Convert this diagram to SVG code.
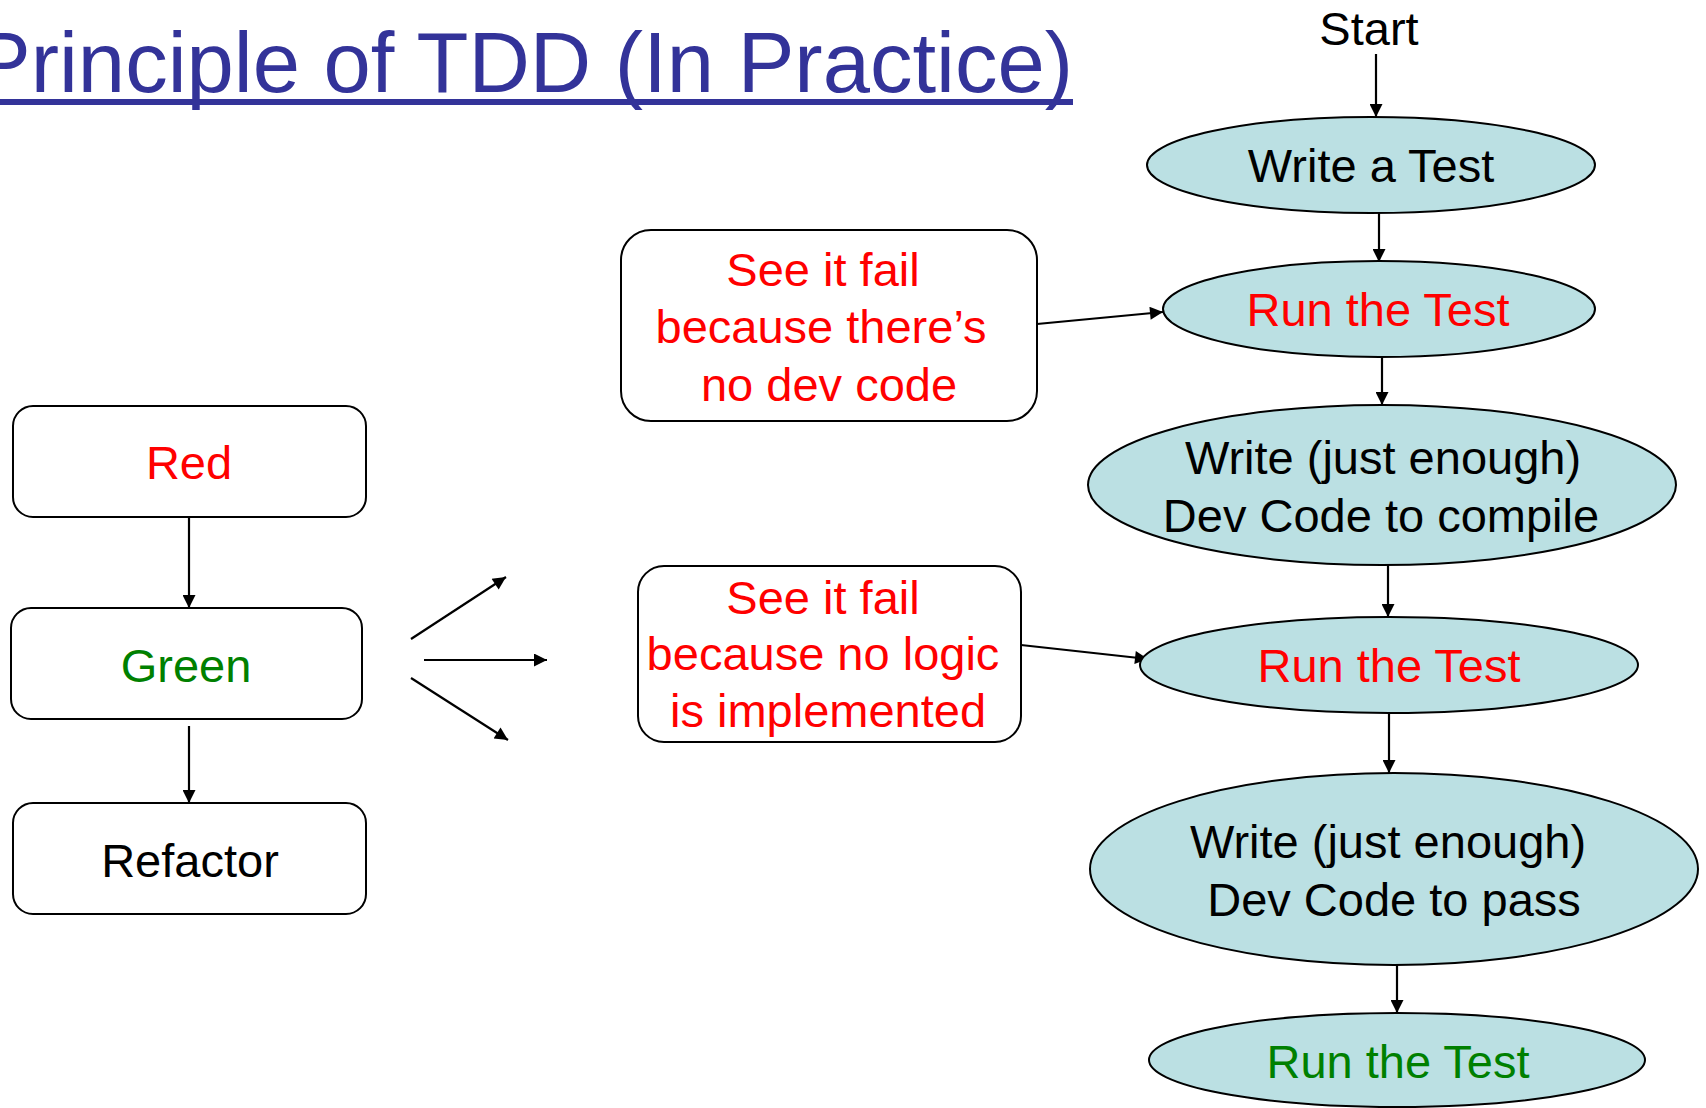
<svg xmlns="http://www.w3.org/2000/svg" width="1706" height="1108" viewBox="0 0 1706 1108">
  <defs>
    <marker id="arrow" viewBox="0 0 10 10" refX="10" refY="5" markerWidth="15" markerHeight="13" markerUnits="userSpaceOnUse" orient="auto">
      <path d="M0,0 L10,5 L0,10 z" fill="#000"/>
    </marker>
    <style>
      text { font-family: "Liberation Sans", Arial, sans-serif; font-size: 47px; text-anchor: middle; }
      .title { font-size: 85px; fill: #333399; text-anchor: end; }
      .black { fill: #000; }
      .red { fill: #FF0000; }
      .green { fill: #008000; }
      .step { fill: #BBE0E3; stroke: #000; stroke-width: 2; }
      .box { fill: #fff; stroke: #000; stroke-width: 2; }
      .conn line { stroke: #000; stroke-width: 2.2; marker-end: url(#arrow); }
    </style>
  </defs>

  <rect width="1706" height="1108" fill="#fff"/>

  <!-- Heading with its underline -->
  <g id="heading">
    <text class="title" x="1073" y="92">Principle of TDD (In Practice)</text>
    <rect x="0" y="99" width="1073" height="6" fill="#333399"/>
  </g>

  <!-- Connectors -->
  <g id="connectors" class="conn">
    <line x1="1376" y1="54" x2="1376" y2="117"/>
    <line x1="1379" y1="213" x2="1379" y2="262"/>
    <line x1="1382" y1="357" x2="1382" y2="405"/>
    <line x1="1388" y1="565" x2="1388" y2="617"/>
    <line x1="1389" y1="713" x2="1389" y2="773"/>
    <line x1="1397" y1="965" x2="1397" y2="1013"/>
    <line x1="1037" y1="324" x2="1163" y2="312"/>
    <line x1="1021" y1="645" x2="1148" y2="659"/>
    <line x1="189" y1="517" x2="189" y2="608"/>
    <line x1="189" y1="726" x2="189" y2="803"/>
    <line x1="411" y1="639" x2="506" y2="577"/>
    <line x1="424" y1="660" x2="547" y2="660"/>
    <line x1="411" y1="678" x2="508" y2="740"/>
  </g>

  <!-- Right-hand flow -->
  <g id="start">
    <text class="black" x="1369" y="45">Start</text>
  </g>
  <g id="write-test">
    <ellipse class="step" cx="1371" cy="165" rx="224" ry="48"/>
    <text class="black" x="1371" y="182">Write a Test</text>
  </g>
  <g id="run-test-1">
    <ellipse class="step" cx="1379" cy="309" rx="216" ry="48"/>
    <text class="red" x="1378" y="326">Run the Test</text>
  </g>
  <g id="write-compile">
    <ellipse class="step" cx="1382" cy="485" rx="294" ry="80"/>
    <text class="black" x="1383" y="474">Write (just enough)</text>
    <text class="black" x="1381" y="532">Dev Code to compile</text>
  </g>
  <g id="run-test-2">
    <ellipse class="step" cx="1389" cy="665" rx="249" ry="48"/>
    <text class="red" x="1389" y="682">Run the Test</text>
  </g>
  <g id="write-pass">
    <ellipse class="step" cx="1394" cy="869" rx="304" ry="96"/>
    <text class="black" x="1388" y="858">Write (just enough)</text>
    <text class="black" x="1394" y="916">Dev Code to pass</text>
  </g>
  <g id="run-test-3">
    <ellipse class="step" cx="1397" cy="1060" rx="248" ry="47"/>
    <text class="green" x="1398" y="1078">Run the Test</text>
  </g>

  <!-- Notes -->
  <g id="note-no-dev-code">
    <rect class="box" x="621" y="230" width="416" height="191" rx="30"/>
    <text class="red" x="823" y="286">See it fail</text>
    <text class="red" x="821" y="343">because there’s</text>
    <text class="red" x="829" y="401">no dev code</text>
  </g>
  <g id="note-no-logic">
    <rect class="box" x="638" y="566" width="383" height="176" rx="26"/>
    <text class="red" x="823" y="614">See it fail</text>
    <text class="red" x="823" y="670">because no logic</text>
    <text class="red" x="828" y="727">is implemented</text>
  </g>

  <!-- Left-hand cycle -->
  <g id="red">
    <rect class="box" x="13" y="406" width="353" height="111" rx="20"/>
    <text class="red" x="189" y="479">Red</text>
  </g>
  <g id="green">
    <rect class="box" x="11" y="608" width="351" height="111" rx="20"/>
    <text class="green" x="186" y="682">Green</text>
  </g>
  <g id="refactor">
    <rect class="box" x="13" y="803" width="353" height="111" rx="20"/>
    <text class="black" x="190" y="877">Refactor</text>
  </g>
</svg>
